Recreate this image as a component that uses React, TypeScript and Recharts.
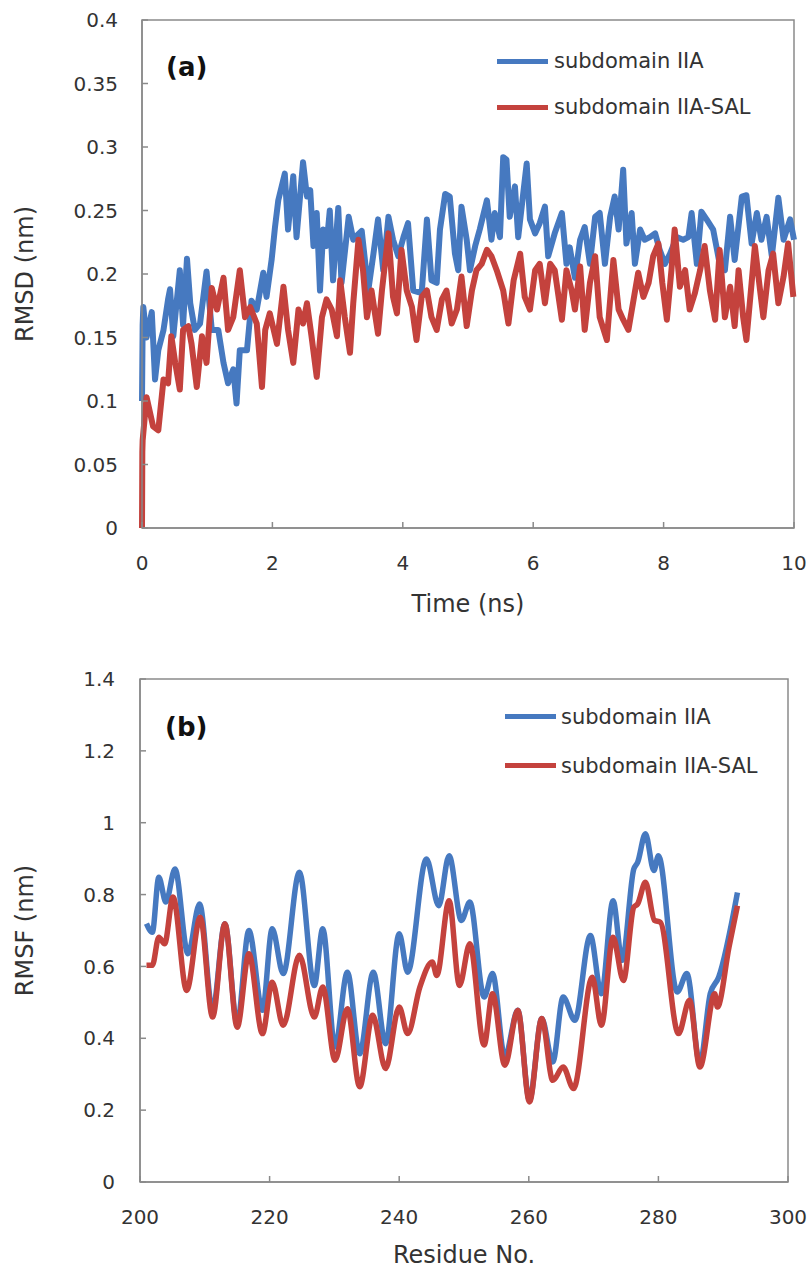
import React from 'react';
import {
  LineChart, Line, XAxis, YAxis, Legend, ReferenceArea, Customized
} from 'recharts';

const FONT = '"DejaVu Sans", sans-serif';
const TEXT = '#333';
const AXIS = '#8a8a8a';
const BLUE = '#4679c0';
const RED = '#c4423d';
const seriesNames = ['subdomain IIA', 'subdomain IIA-SAL'];

// (a) RMSD vs time, subdomain IIA
const timeIIA = [
  0, 0.01, 0.02, 0.07, 0.15, 0.2, 0.25, 0.33, 0.4, 0.43, 0.48, 0.58, 0.63, 0.69, 0.74, 0.81, 0.89, 0.99,
  1.07, 1.17, 1.25, 1.32, 1.4, 1.45, 1.5, 1.61, 1.68, 1.76, 1.86, 1.91, 1.99, 2.04, 2.09, 2.19, 2.24, 2.32,
  2.37, 2.47, 2.53, 2.58, 2.63, 2.68, 2.73, 2.78, 2.83, 2.88, 2.93, 3.01, 3.06, 3.17, 3.24, 3.27, 3.37, 3.47,
  3.55, 3.62, 3.7, 3.78, 3.85, 3.93, 4.01, 4.08, 4.16, 4.29, 4.37, 4.44, 4.52, 4.57, 4.65, 4.72, 4.8, 4.85,
  4.9, 4.98, 5.03, 5.11, 5.18, 5.29, 5.36, 5.41, 5.49, 5.54, 5.59, 5.64, 5.72, 5.77, 5.9, 5.95, 6.03, 6.1,
  6.18, 6.23, 6.33, 6.44, 6.51, 6.56, 6.64, 6.72, 6.79, 6.87, 6.95, 7.02, 7.1, 7.18, 7.25, 7.31, 7.38, 7.43,
  7.51, 7.56, 7.64, 7.71, 7.79, 7.87, 7.94, 8.02, 8.1, 8.2, 8.3, 8.38, 8.43, 8.51, 8.58, 8.66, 8.76, 8.86,
  8.94, 9.02, 9.09, 9.2, 9.27, 9.35, 9.43, 9.5, 9.58, 9.66, 9.76, 9.84, 9.94, 10
];
const rmsdIIA = [
  0.1, 0.16, 0.174, 0.15, 0.17, 0.117, 0.14, 0.156, 0.18, 0.188, 0.151, 0.203, 0.16, 0.212, 0.177, 0.156, 0.161, 0.202,
  0.156, 0.156, 0.13, 0.114, 0.125, 0.098, 0.14, 0.14, 0.179, 0.172, 0.201, 0.182, 0.212, 0.237, 0.258, 0.279, 0.235, 0.277,
  0.229, 0.288, 0.261, 0.266, 0.222, 0.248, 0.187, 0.235, 0.222, 0.25, 0.195, 0.252, 0.193, 0.245, 0.227, 0.229, 0.234, 0.187,
  0.216, 0.243, 0.203, 0.245, 0.227, 0.214, 0.229, 0.24, 0.187, 0.185, 0.243, 0.195, 0.193, 0.235, 0.263, 0.261, 0.216, 0.203,
  0.253, 0.227, 0.203, 0.222, 0.235, 0.258, 0.227, 0.248, 0.229, 0.292, 0.29, 0.245, 0.269, 0.229, 0.287, 0.243, 0.232, 0.24,
  0.253, 0.214, 0.232, 0.248, 0.208, 0.221, 0.197, 0.227, 0.237, 0.208, 0.245, 0.248, 0.208, 0.245, 0.261, 0.235, 0.282, 0.224,
  0.248, 0.208, 0.235, 0.227, 0.229, 0.232, 0.219, 0.208, 0.216, 0.229, 0.227, 0.229, 0.248, 0.208, 0.249, 0.243, 0.235, 0.208,
  0.203, 0.245, 0.211, 0.261, 0.262, 0.224, 0.248, 0.227, 0.245, 0.214, 0.26, 0.227, 0.243, 0.227
];

// (a) RMSD vs time, subdomain IIA-SAL
const timeSAL = [
  0, 0.005, 0.01, 0.07, 0.17, 0.25, 0.33, 0.4, 0.45, 0.51, 0.58, 0.63, 0.71, 0.76, 0.84, 0.92, 0.99, 1.07,
  1.15, 1.25, 1.32, 1.4, 1.5, 1.58, 1.66, 1.76, 1.84, 1.89, 1.96, 2.07, 2.17, 2.24, 2.32, 2.4, 2.47, 2.53,
  2.6, 2.68, 2.76, 2.83, 2.91, 2.99, 3.04, 3.11, 3.19, 3.24, 3.32, 3.39, 3.45, 3.52, 3.62, 3.68, 3.78, 3.85,
  3.91, 3.98, 4.06, 4.14, 4.21, 4.29, 4.37, 4.44, 4.52, 4.6, 4.67, 4.75, 4.83, 4.9, 4.98, 5.06, 5.13, 5.21,
  5.29, 5.36, 5.44, 5.54, 5.62, 5.7, 5.8, 5.87, 5.95, 6.03, 6.1, 6.18, 6.26, 6.33, 6.44, 6.51, 6.59, 6.64,
  6.72, 6.79, 6.87, 6.95, 7.02, 7.13, 7.23, 7.31, 7.38, 7.46, 7.54, 7.61, 7.69, 7.77, 7.84, 7.92, 7.98, 8.05,
  8.12, 8.17, 8.25, 8.33, 8.4, 8.48, 8.56, 8.63, 8.71, 8.79, 8.86, 8.94, 9.02, 9.09, 9.15, 9.22, 9.27, 9.35,
  9.4, 9.48, 9.53, 9.61, 9.68, 9.76, 9.84, 9.91, 9.99
];
const rmsdSAL = [
  0, 0.06, 0.069, 0.103, 0.08, 0.077, 0.117, 0.114, 0.151, 0.13, 0.109, 0.156, 0.159, 0.145, 0.111, 0.151, 0.13, 0.189,
  0.172, 0.197, 0.156, 0.166, 0.203, 0.166, 0.174, 0.161, 0.111, 0.156, 0.169, 0.145, 0.19, 0.156, 0.13, 0.172, 0.161, 0.177,
  0.151, 0.119, 0.166, 0.18, 0.172, 0.151, 0.195, 0.166, 0.138, 0.177, 0.227, 0.203, 0.166, 0.187, 0.153, 0.187, 0.232, 0.182,
  0.169, 0.219, 0.187, 0.174, 0.148, 0.182, 0.187, 0.166, 0.156, 0.18, 0.187, 0.161, 0.172, 0.198, 0.159, 0.187, 0.203, 0.208,
  0.219, 0.214, 0.203, 0.187, 0.161, 0.195, 0.216, 0.182, 0.172, 0.203, 0.208, 0.177, 0.208, 0.203, 0.164, 0.203, 0.187, 0.172,
  0.206, 0.156, 0.193, 0.214, 0.166, 0.148, 0.211, 0.172, 0.164, 0.156, 0.18, 0.201, 0.182, 0.193, 0.214, 0.224, 0.193, 0.164,
  0.203, 0.235, 0.19, 0.203, 0.172, 0.185, 0.203, 0.222, 0.187, 0.164, 0.219, 0.166, 0.19, 0.159, 0.203, 0.166, 0.148, 0.193,
  0.222, 0.187, 0.166, 0.203, 0.216, 0.177, 0.198, 0.224, 0.182
];

// (b) RMSF vs residue
const residueIIA = [
  201, 201.9, 202.9, 204, 205.4, 207.4, 209.2, 211.2, 213.1, 215, 216.8, 218.9, 220.4, 222.1, 224.6, 226.9,
  228.2, 230.1, 232, 233.9, 236, 237.9, 240, 241.3, 244.2, 246.1, 247.7, 249.6, 250.9, 253.1, 254.4, 256.3,
  258.3, 260.1, 262, 263.7, 265.3, 267.1, 269.5, 271.2, 273, 274.4, 276.2, 276.8, 278, 279.3, 280, 282.9,
  284.4, 286.4, 288, 289.3, 292.2
];
const rmsfIIA = [
  0.719, 0.695, 0.848, 0.779, 0.871, 0.635, 0.774, 0.478, 0.719, 0.441, 0.7, 0.478, 0.705, 0.58, 0.862, 0.547,
  0.705, 0.376, 0.584, 0.357, 0.584, 0.385, 0.691, 0.584, 0.899, 0.769, 0.908, 0.728, 0.779, 0.515, 0.58, 0.348,
  0.478, 0.228, 0.455, 0.334, 0.515, 0.45, 0.686, 0.524, 0.783, 0.617, 0.871, 0.89, 0.969, 0.867, 0.908, 0.529,
  0.58, 0.33, 0.524, 0.57, 0.806
];
const residueSAL = [
  201, 201.9, 202.9, 203.8, 205.1, 207.2, 209.3, 211.2, 213.1, 215, 216.8, 218.9, 220.4, 222.1, 224.6, 226.9,
  228.2, 230.1, 232, 233.9, 235.9, 237.9, 240, 241.3, 243.2, 245.1, 245.8, 247.7, 249.3, 250.9, 253.1, 254.4,
  256.3, 258.3, 260.1, 262, 263.7, 265.3, 266.9, 269.8, 271.2, 273, 274.6, 276.2, 276.8, 278, 279.4, 280.3,
  283.1, 284.8, 286.4, 288.7, 289.1, 290.9, 292.2
];
const rmsfSAL = [
  0.603, 0.603, 0.681, 0.663, 0.793, 0.533, 0.737, 0.459, 0.719, 0.431, 0.635, 0.413, 0.556, 0.436, 0.631, 0.459,
  0.543, 0.339, 0.482, 0.265, 0.464, 0.316, 0.487, 0.413, 0.543, 0.612, 0.575, 0.783, 0.547, 0.663, 0.381, 0.524,
  0.325, 0.478, 0.223, 0.455, 0.283, 0.32, 0.26, 0.57, 0.436, 0.681, 0.561, 0.765, 0.774, 0.834, 0.728, 0.723,
  0.413, 0.506, 0.32, 0.524, 0.487, 0.654, 0.769
];

const timeTicks = [0, 2, 4, 6, 8, 10];
const rmsdTicks = [0, 0.05, 0.1, 0.15, 0.2, 0.25, 0.3, 0.35, 0.4];
const residueTicks = [200, 220, 240, 260, 280, 300];
const rmsfTicks = [0, 0.2, 0.4, 0.6, 0.8, 1, 1.2, 1.4];

const zip = (xs: number[], ys: number[]) => xs.map((x, i) => ({ x, y: ys[i] }));

const tickStyle = { fontFamily: FONT, fontSize: 20, fill: TEXT };
const titleStyle = { fontFamily: FONT, fontSize: 24, fill: TEXT, textAnchor: 'middle' as const };

const PanelLegend = ({ rowHeight, gap }: { rowHeight: number; gap: number }) => (
  <div style={{ fontFamily: FONT, fontSize: 21, color: TEXT }}>
    {seriesNames.map((name, i) => (
      <div key={name} style={{ display: 'flex', alignItems: 'center', height: rowHeight, whiteSpace: 'nowrap' }}>
        <span style={{ display: 'inline-block', width: 51, height: 5, background: i === 0 ? BLUE : RED, marginRight: gap }} />
        <span>{name}</span>
      </div>
    ))}
  </div>
);

const PanelTag = ({ text, x, y }: { text: string; x: number; y: number }) => (
  <text x={x} y={y} fontFamily={FONT} fontSize={26} fontWeight="bold" fill="#111">{text}</text>
);

export default function App() {
  return (
    <div style={{ position: 'absolute', left: 0, top: 0, width: 810, height: 1274, background: '#fff' }}>
      <LineChart width={810} height={640} margin={{ top: 20, right: 16, left: 0, bottom: 0 }}>
        <XAxis
          type="number" dataKey="x" domain={[0, 10]} ticks={timeTicks} height={112}
          stroke={AXIS} strokeWidth={1.5} tickSize={-6} tickMargin={34} tick={tickStyle}
          label={{ value: 'Time (ns)', position: 'insideBottom', offset: 28, style: titleStyle }}
        />
        <YAxis
          type="number" domain={[0, 0.4]} ticks={rmsdTicks} width={142}
          stroke={AXIS} strokeWidth={1.5} tickSize={-6} tickMargin={30} tick={tickStyle}
          label={{ value: 'RMSD (nm)', angle: -90, position: 'insideLeft', offset: 24, style: titleStyle }}
        />
        <ReferenceArea x1={0} x2={10} y1={0} y2={0.4} fill="none" stroke={AXIS} strokeWidth={1.5} />
        <Line data={zip(timeIIA, rmsdIIA)} dataKey="y" name={seriesNames[0]} type="linear"
          stroke={BLUE} strokeWidth={6} strokeLinejoin="round" dot={false} isAnimationActive={false} />
        <Line data={zip(timeSAL, rmsdSAL)} dataKey="y" name={seriesNames[1]} type="linear"
          stroke={RED} strokeWidth={6} strokeLinejoin="round" dot={false} isAnimationActive={false} />
        <Legend layout="vertical" align="center" verticalAlign="middle"
          wrapperStyle={{ top: 38, left: 497, width: 'auto' }}
          content={() => <PanelLegend rowHeight={46} gap={6} />} />
        <Customized component={() => <PanelTag text="(a)" x={166} y={76} />} />
      </LineChart>

      <LineChart width={810} height={634} margin={{ top: 39, right: 22, left: 0, bottom: 0 }}>
        <XAxis
          type="number" dataKey="x" domain={[200, 300]} ticks={residueTicks} height={92}
          stroke={AXIS} strokeWidth={1.5} tickSize={-6} tickMargin={34} tick={tickStyle}
          label={{ value: 'Residue No.', position: 'insideBottom', offset: 11, style: titleStyle }}
        />
        <YAxis
          type="number" domain={[0, 1.4]} ticks={rmsfTicks} width={140}
          stroke={AXIS} strokeWidth={1.5} tickSize={-6} tickMargin={31} tick={tickStyle}
          label={{ value: 'RMSF (nm)', angle: -90, position: 'insideLeft', offset: 24, style: titleStyle }}
        />
        <ReferenceArea x1={200} x2={300} y1={0} y2={1.4} fill="none" stroke={AXIS} strokeWidth={1.5} />
        <Line data={zip(residueIIA, rmsfIIA)} dataKey="y" name={seriesNames[0]} type="monotone"
          stroke={BLUE} strokeWidth={5.5} dot={false} isAnimationActive={false} />
        <Line data={zip(residueSAL, rmsfSAL)} dataKey="y" name={seriesNames[1]} type="monotone"
          stroke={RED} strokeWidth={5.5} dot={false} isAnimationActive={false} />
        <Legend layout="vertical" align="center" verticalAlign="middle"
          wrapperStyle={{ top: 52, left: 505, width: 'auto' }}
          content={() => <PanelLegend rowHeight={49} gap={5} />} />
        <Customized component={() => <PanelTag text="(b)" x={165} y={96} />} />
      </LineChart>
    </div>
  );
}
